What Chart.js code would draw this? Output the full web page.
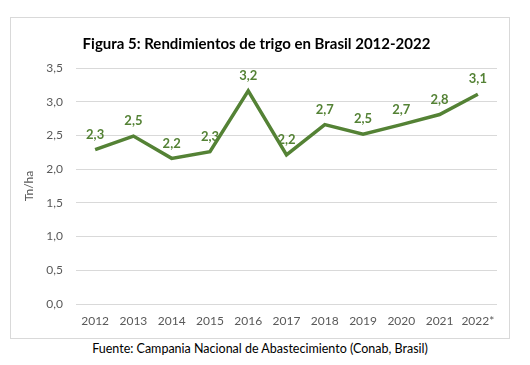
<!DOCTYPE html>
<html><head><meta charset="utf-8">
<script src="https://cdn.jsdelivr.net/npm/chart.js@4/dist/chart.umd.min.js"></script>
<style>
html,body{margin:0;padding:0;background:#fff;width:530px;height:365px;overflow:hidden}
#frame{position:absolute;left:10px;top:17px;width:500px;height:322px;border:1px solid #d9d9d9;box-sizing:border-box}
#src{position:absolute;left:0;top:340px;width:520px;text-align:center;font-family:Lato,"Open Sans",sans-serif;font-size:12.5px;color:#000;line-height:18px}
</style></head>
<body>
<div id="frame"><canvas id="c" width="498" height="320"></canvas></div>
<div id="src">Fuente: Campania Nacional de Abastecimiento (Conab, Brasil)</div>
<script>
const years = ["2012","2013","2014","2015","2016","2017","2018","2019","2020","2021","2022*"];
const yields = [2.29, 2.49, 2.16, 2.26, 3.16, 2.21, 2.66, 2.52, 2.66, 2.81, 3.11];
const yTicks = [0, 0.5, 1.0, 1.5, 2.0, 2.5, 3.0, 3.5];

const green = "#548235";
const fmt = v => v.toFixed(1).replace(".", ",");

const labelPlugin = {
  id: "pointLabels",
  afterDatasetsDraw(chart) {
    const ctx = chart.ctx;
    const meta = chart.getDatasetMeta(0);
    ctx.save();
    ctx.font = "bold 13px Lato, 'Open Sans', sans-serif";
    ctx.fillStyle = green;
    ctx.textAlign = "center";
    ctx.textBaseline = "middle";
    meta.data.forEach((pt, i) => {
      ctx.fillText(fmt(chart.data.datasets[0].data[i]), pt.x, pt.y - 15);
    });
    ctx.restore();
  }
};

new Chart(document.getElementById("c"), {
  type: "line",
  data: {
    labels: years,
    datasets: [{
      data: yields,
      borderColor: green,
      borderWidth: 3.5,
      pointRadius: 0,
      tension: 0,
      fill: false
    }]
  },
  options: {
    responsive: false,
    animation: false,
    layout: { padding: { left: 5, right: 12, bottom: 6, top: 0 } },
    plugins: {
      legend: { display: false },
      tooltip: { enabled: false },
      title: {
        display: true,
        text: "Figura 5: Rendimientos de trigo en Brasil 2012-2022",
        color: "#000",
        font: { family: "Lato, 'Open Sans', sans-serif", size: 15, weight: "bold" },
        padding: { top: 17, bottom: 15 }
      }
    },
    scales: {
      x: {
        offset: true,
        grid: { display: false, drawTicks: false },
        border: { display: false },
        ticks: { color: "#595959", font: { family: "Lato, 'Open Sans', sans-serif", size: 12 }, padding: 10, maxRotation: 0, autoSkip: false },
        afterFit: s => { s.height = 28; }
      },
      y: {
        min: 0, max: 3.5,
        afterBuildTicks: s => { s.ticks = yTicks.map(v => ({ value: v })); },
        grid: { color: "#d9d9d9", drawTicks: false, lineWidth: 1 },
        border: { display: false },
        ticks: { color: "#595959", font: { family: "Lato, 'Open Sans', sans-serif", size: 12 }, padding: 13, callback: v => fmt(v) },
        title: { display: true, text: "Tn/ha", color: "#595959", font: { family: "Lato, 'Open Sans', sans-serif", size: 12 }, padding: { top: 6, bottom: 0 } },
        afterFit: s => { s.width = 60; }
      }
    }
  },
  plugins: [labelPlugin]
});
</script>
</body></html>
